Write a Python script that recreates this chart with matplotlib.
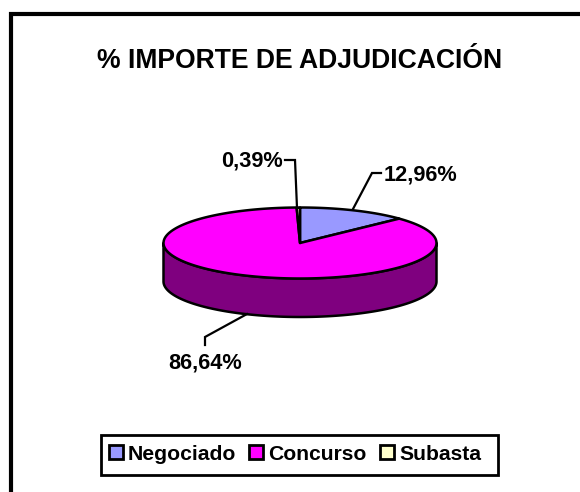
import numpy as np
import matplotlib
matplotlib.use("Agg")
import matplotlib.pyplot as plt
from matplotlib.patches import Polygon, Rectangle

title = "% IMPORTE DE ADJUDICACIÓN"
categories = ["Negociado", "Concurso", "Subasta"]
values = [12.96, 86.64, 0.39]
labels = ["12,96%", "86,64%", "0,39%"]
colors = ["#9999FF", "#FF00FF", "#FFFFCC"]
side_color = "#7F007F"

W, H = 580, 492
plt.rcParams['font.family'] = ['Liberation Sans', 'DejaVu Sans']
fig = plt.figure(figsize=(W/100, H/100), dpi=100)
ax = fig.add_axes([0, 0, 1, 1])
ax.set_xlim(0, W); ax.set_ylim(H, 0); ax.axis("off")

# frame: only the top and left edges fall inside the picture
ax.add_patch(Rectangle((10.5, 14), W, H, fc="white", ec="black", lw=3.0))
ax.text(300, 60.5, title, ha="center", va="center", fontsize=19.1, fontweight="bold")

cx, cy, rx, ry, depth = 300, 243, 136.5, 35.5, 38.5

def pt(deg):
    a = np.radians(deg)
    return cx + rx*np.sin(a), cy - ry*np.cos(a)

# side wall
t = np.linspace(90, 270, 160)
front = np.array([pt(d) for d in t])
wall = np.vstack([front, (front + [0, depth])[::-1]])
ax.add_patch(Polygon(wall, closed=True, fc=side_color, ec="black", lw=1.8, joinstyle="round"))

# top slices, clockwise from 12 o'clock
total = sum(values)
start = 0.0
for v, c in zip(values, colors):
    end = start + 360*v/total
    arc = np.array([pt(d) for d in np.linspace(start, end, 200)])
    ax.add_patch(Polygon(np.vstack([[cx, cy], arc]), closed=True, fc=c, ec="black", lw=1.8, joinstyle="round"))
    start = end

# leader lines
leaders = [([353, 372, 381], [209, 173, 173]),
           ([247, 205, 205], [314, 337, 345]),
           ([297, 295, 285], [208, 160, 160])]
for xs, ys in leaders:
    ax.plot(xs, ys, color="black", lw=1.6, solid_joinstyle="miter")

fs = 15.7
ax.text(384, 175, labels[0], ha="left", va="center", fontsize=fs, fontweight="bold")
ax.text(205, 363.5, labels[1], ha="center", va="center", fontsize=fs, fontweight="bold")
ax.text(252, 161.5, labels[2], ha="center", va="center", fontsize=fs, fontweight="bold")

# legend
ax.add_patch(Rectangle((101, 435), 396.5, 39.5, fc="white", ec="black", lw=2))
for xk, xt, c, name in zip([109, 249, 380], [128, 268, 399], colors, categories):
    ax.add_patch(Rectangle((xk, 445), 13.5, 14, fc=c, ec="black", lw=2))
    ax.text(xt, 453, name, ha="left", va="center_baseline", fontsize=15.2, fontweight="bold")

fig.savefig("out.png", dpi=100, facecolor="white")
